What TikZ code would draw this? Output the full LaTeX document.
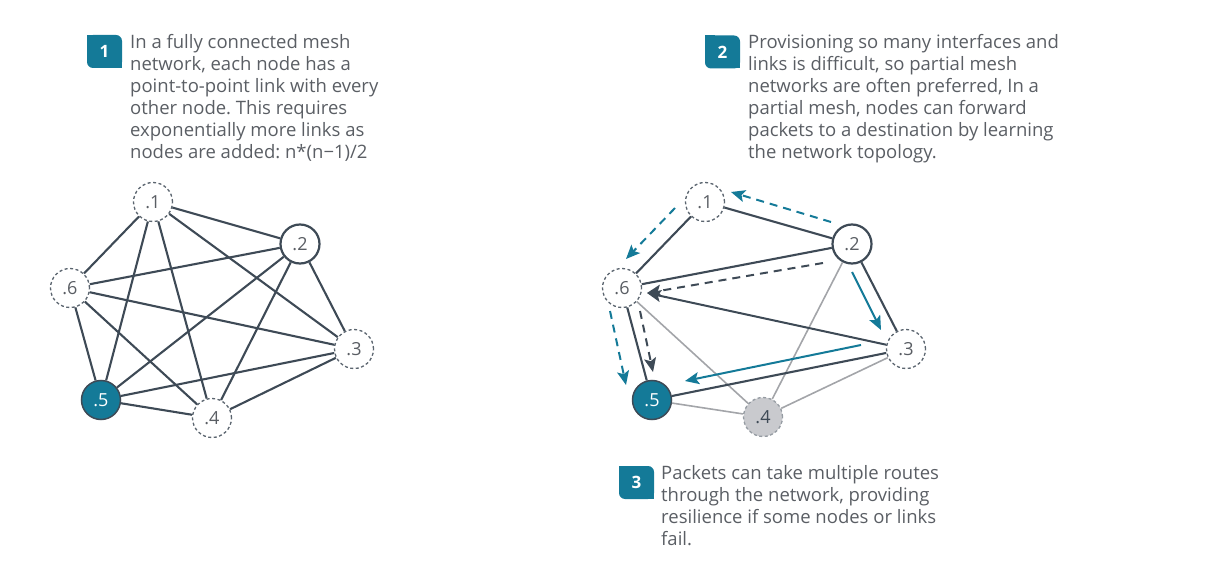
\documentclass[tikz,border=0pt]{standalone}
\usepackage{fontspec}
\setmainfont{Open Sans}
\usetikzlibrary{arrows.meta}
\definecolor{teal1}{RGB}{20,122,152}
\definecolor{edge}{RGB}{62,74,86}
\definecolor{lgray}{RGB}{163,165,169}
\definecolor{txt}{RGB}{90,94,100}
\definecolor{nfill}{RGB}{201,202,206}
\frenchspacing
\begin{document}
\begin{tikzpicture}[x=1pt,y=-1pt,
  nd/.style={circle,minimum size=39pt,inner sep=0pt,text=txt,font=\fontsize{18}{18}\selectfont},
  dnd/.style={nd,draw=edge!85,dash pattern=on 3pt off 2.5pt,line width=1.3pt,fill=white},
  snd/.style={nd,draw=edge,line width=2.2pt,fill=white},
  tnd/.style={nd,draw=edge,line width=1.5pt,fill=teal1,text=white},
  gnd/.style={nd,draw=edge!55,dash pattern=on 3pt off 2.5pt,line width=1.3pt,fill=nfill,text=edge},
  ln/.style={edge,line width=2.1pt},
  lg/.style={lgray,line width=1.6pt},
  tarr/.style={teal1,line width=2pt,-{Stealth[length=14pt,width=12pt,inset=3pt]}},
  tdash/.style={tarr,dash pattern=on 8pt off 6pt},
  darr/.style={edge,line width=2pt,-{Stealth[length=14pt,width=12pt,inset=3pt]}},
  ddash/.style={darr,dash pattern=on 8pt off 6pt},
  badge/.style={rectangle,minimum width=35pt,minimum height=33pt,inner sep=0pt,text=white,
    font=\bfseries\fontsize{17}{17}\selectfont,
    path picture={\fill[teal1,rounded corners=6pt] (path picture bounding box.south west) rectangle (path picture bounding box.north east);
      \fill[teal1] (path picture bounding box.north west) rectangle ++(10,10);
      \fill[teal1] (path picture bounding box.south east) rectangle ++(-10,-10);}},
  desc/.style={anchor=north west,inner sep=0pt,align=left,text=txt,font=\fontsize{18.5}{22}\selectfont}
]
\useasboundingbox (0,0) rectangle (1229,588);

% ---- texts ----
\node[badge] (b1) at (104.5,51.5) {1};
\node[desc] (t1) at (130,34) {In a fully connected mesh\\network, each node has a\\point-to-point link with every\\other node. This requires\\exponentially more links as\\nodes are added: n*(n−1)/2};
\node[badge] (b2) at (722.5,52) {2};
\node[desc] (t2) at (748,34) {Provisioning so many interfaces and\\links is difficult, so partial mesh\\networks are often preferred, In a\\partial mesh, nodes can forward\\packets to a destination by learning\\the network topology.};
\node[badge] (b3) at (636.5,482.5) {3};
\node[desc] (t3) at (661,465) {Packets can take multiple routes\\through the network, providing\\resilience if some nodes or links\\fail.};

% ---- left graph ----
\node[dnd] (l1) at (153,202) {.1};
\node[snd] (l2) at (300,244) {.2};
\node[dnd] (l3) at (354,349) {.3};
\node[dnd] (l4) at (212,418) {.4};
\node[tnd] (l5) at (101,400) {.5};
\node[dnd] (l6) at (70,288) {.6};
\foreach \a/\b in {1/2,1/3,1/4,1/5,1/6,2/3,2/4,2/5,2/6,3/4,3/5,3/6,4/5,4/6,5/6}
  \draw[ln] (l\a) -- (l\b);

% ---- right graph ----
\node[dnd] (r1) at (705,202) {.1};
\node[snd] (r2) at (852,244) {.2};
\node[dnd] (r3) at (906,349) {.3};
\node[gnd] (r4) at (763,417) {.4};
\node[tnd] (r5) at (652,400) {.5};
\node[dnd] (r6) at (622,288) {.6};

\foreach \a/\b in {6/4,5/4,2/4,3/4}
  \draw[lg] (r\a) -- (r\b);
\foreach \a/\b in {1/6,1/2,2/6,2/3,3/5,6/5}
  \draw[ln] (r\a) -- (r\b);

\coordinate (h6) at (647,293);
\coordinate (s26) at (823,263);
\draw[darr] (r3) -- (h6);
\draw[ddash] (s26) -- (h6);

\coordinate (s65d) at (640,311);
\coordinate (e65d) at (653,372);
\draw[ddash] (s65d) -- (e65d);

\coordinate (s65t) at (610,311);
\coordinate (e65t) at (626,385);
\draw[tdash] (s65t) -- (e65t);

\coordinate (s21) at (831,222);
\coordinate (e21) at (731,192);
\draw[tdash] (s21) -- (e21);

\coordinate (s16) at (675,208);
\coordinate (e16) at (626,259);
\draw[tdash] (s16) -- (e16);

\coordinate (s23) at (852,272);
\coordinate (e23) at (881,330);
\draw[tarr] (s23) -- (e23);

\coordinate (s35) at (861,345);
\coordinate (e35) at (685,381);
\draw[tarr] (s35) -- (e35);
\end{tikzpicture}
\end{document}
